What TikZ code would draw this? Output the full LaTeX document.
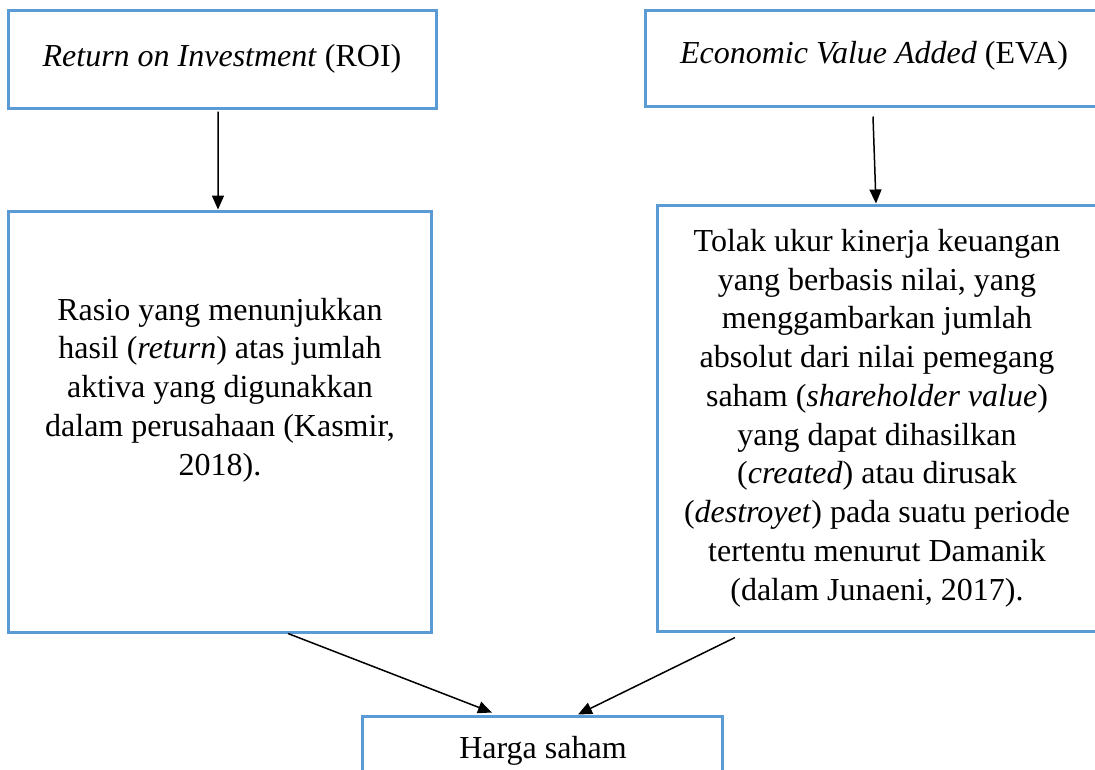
\documentclass[tikz,border=0pt]{standalone}
\usepackage{fontspec}
\setmainfont{Liberation Serif}
\usetikzlibrary{arrows.meta}
\definecolor{boxblue}{RGB}{91,155,213}
\begin{document}
\begin{tikzpicture}
        [x=0.4pt, y=-0.4pt,
        box/.style={rectangle, draw=boxblue, line width=1.2pt, inner sep=0pt},
        txt/.style={align=center, inner sep=0pt, font=\fontsize{12.8}{15.5}\selectfont},
        arrow/.style={black, line width=0.6pt, -{Triangle[length=5.6pt,width=4.8pt]}}]

        \useasboundingbox (0,0) rectangle (1095,769);
        \clip (0,0) rectangle (1095,769);

        % boxes
        \node[box, minimum width=170.8pt, minimum height=39.2pt] (roi) at (222.5,59) {};
        \node[box, minimum width=184pt, minimum height=38.4pt] (eva) at (875,58) {};
        \node[box, minimum width=168.8pt, minimum height=168.4pt] (rasio) at (220,421.5) {};
        \node[box, minimum width=179.2pt, minimum height=170.4pt] (tolak) at (881,418) {};
        \node[box, minimum width=143.6pt, minimum height=29.6pt] (harga) at (542.5,753) {};

        % texts
        \node[txt] (roitxt) at (222,59) {\textit{Return on Investment} (ROI)};
        \node[txt] (evatxt) at (874,56) {\textit{Economic Value Added} (EVA)};
        \node[txt] (rasiotxt) at (220,390) {Rasio yang menunjukkan\\
          hasil (\textit{return}) atas jumlah\\ aktiva yang digunakkan\\
          dalam perusahaan (Kasmir,\\ 2018).};
        \node[txt] (tolaktxt) at (877,418) {Tolak ukur kinerja keuangan\\
          yang berbasis nilai, yang\\ menggambarkan jumlah\\
          absolut dari nilai pemegang\\ saham (\textit{shareholder value})\\
          yang dapat dihasilkan\\ (\textit{created}) atau dirusak\\
          (\textit{destroyet}) pada suatu periode\\ tertentu menurut Damanik\\
          (dalam Junaeni, 2017).};
        \node[txt] (hargatxt) at (543,751) {Harga saham};

        % arrows
        \draw[arrow] ([xshift=-1.8pt,yshift=-0.8pt]roi.south) -- ([xshift=-0.8pt]rasio.north);
        \draw[arrow] ([xshift=-0.8pt,yshift=-3.6pt]eva.south) -- ([xshift=-2pt]tolak.north);
        \draw[arrow] ([xshift=27.2pt]rasio.south) -- ([xshift=-20.2pt,yshift=0.8pt]harga.north);
        \draw[arrow] ([xshift=-58.4pt,yshift=-2pt]tolak.south) -- ([xshift=14.2pt]harga.north);

\end{tikzpicture}
\end{document}
